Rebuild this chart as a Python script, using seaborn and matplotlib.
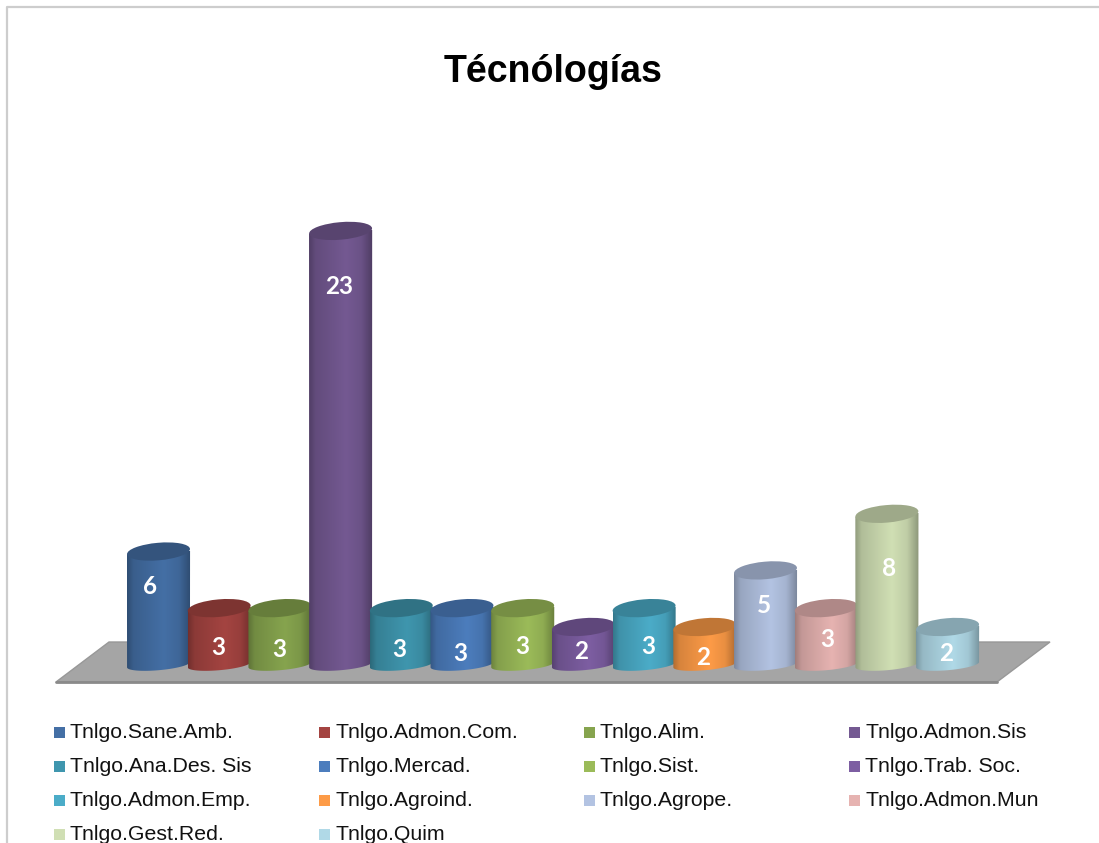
import numpy as np
import pandas as pd
import matplotlib.pyplot as plt
import seaborn as sns
from matplotlib.patches import Ellipse, Polygon, Rectangle
from matplotlib.path import Path
from matplotlib.transforms import IdentityTransform
from matplotlib.colors import to_rgb

categories = ['Tnlgo.Sane.Amb.', 'Tnlgo.Admon.Com.', 'Tnlgo.Alim.', 'Tnlgo.Admon.Sis',
              'Tnlgo.Ana.Des. Sis', 'Tnlgo.Mercad.', 'Tnlgo.Sist.', 'Tnlgo.Trab. Soc.',
              'Tnlgo.Admon.Emp.', 'Tnlgo.Agroind.', 'Tnlgo.Agrope.', 'Tnlgo.Admon.Mun',
              'Tnlgo.Gest.Red.', 'Tnlgo.Quim']
values = [6, 3, 3, 23, 3, 3, 3, 2, 3, 2, 5, 3, 8, 2]
colors = ['#446fa5', '#a44441', '#86a44e', '#745992', '#3f96ae', '#4c7dbd', '#9bbb59',
          '#7d5ea2', '#4bacc8', '#fd9b47', '#b3c3e2', '#e6b3b1', '#d0dfb4', '#b0d9e7']

# where the value label sits relative to the bar centre / bar top, in pixels
label_dx = [-8, -1, -1, -1, -2, -2, 0, -2, 4, -2, -2, 1, 2, -1]
label_dy = [35, 39, 41, 56, 41, 45, 38, 25, 38, 31, 35, 31, 55, 27]

W, H = 1099, 843
X0, DX = 158.5, 60.7    # pixel of first bar centre, pixels per category
Y0, DY = 664.7, 18.86   # pixel of value 0 (from top), pixels per unit

sns.set_theme(style='white')
plt.rcParams['font.family'] = ['Liberation Sans', 'DejaVu Sans']

fig = plt.figure(figsize=(W / 100, H / 100), dpi=100)
ax = fig.add_axes([0, 0, 1, 1])

df = pd.DataFrame({'carrera': categories, 'n': values})
sns.barplot(data=df, x='carrera', y='n', hue='carrera', palette=colors, width=1.04,
            legend=False, ax=ax)


def set_limits():
    ax.set_xlim(-X0 / DX, (W - X0) / DX)
    ax.set_ylim((Y0 - H) / DY, Y0 / DY)


set_limits()
ax.axis('off')


# floor of the 3d chart, in pixels from the top left
def px(points):
    return [(x, H - y) for x, y in points]


floor = Polygon(px([(56, 682), (109, 642), (1050, 642), (997, 682)]), closed=True,
                facecolor='#a5a5a5', edgecolor='#989898', linewidth=1,
                transform=IdentityTransform(), zorder=1)
ax.add_patch(floor)
ax.plot([56, 997], [H - 682, H - 682], color='#8a8a8a', lw=2,
        transform=IdentityTransform(), zorder=1.1)

shade_pos = [0, 0.1, 0.58, 0.82, 1]
shade_val = [0.7, 0.85, 1.0, 0.92, 0.68]
shade = np.interp(np.linspace(0, 1, 80), shade_pos, shade_val)
tilt = np.deg2rad(5)

bars = list(ax.patches)
for i, bar in enumerate(bars):
    if bar is floor:
        continue
    bar.set_visible(False)
    left, right = bar.get_x(), bar.get_x() + bar.get_width()
    val = bar.get_height()
    z = 2 + i * 0.1
    (xl, yb), (xr, yt) = ax.transData.transform([(left, 0), (right, val)])
    xc = (xl + xr) / 2
    half = (xr - xl) / 2
    rgb = np.array(to_rgb(colors[i]))

    # cylinder body: flat lower half ellipse, tilted, and straight sides
    t = np.linspace(np.pi, 2 * np.pi, 40)
    ex = half * np.cos(t)
    ey = 5.5 * np.sin(t)
    low_x = xc + ex * np.cos(tilt) - ey * np.sin(tilt)
    low_y = yb + ex * np.sin(tilt) + ey * np.cos(tilt)
    outline = list(zip(low_x, low_y))
    outline += [(xr, yt + half * np.sin(tilt)), (xl, yt - half * np.sin(tilt))]
    im = ax.imshow(np.clip(shade[None, :, None] * rgb, 0, 1), aspect='auto',
                   extent=(left, right, 0 - 0.5, val), interpolation='bilinear', zorder=z)
    im.set_clip_path(Path(outline + [outline[0]]), transform=IdentityTransform())

    # lid
    ax.add_patch(Ellipse((xc, yt), width=2 * half, height=17.5, angle=5,
                         facecolor=rgb * 0.76, edgecolor='none',
                         transform=IdentityTransform(), zorder=z + 0.01))
    ax.text(xc + label_dx[i], yt - label_dy[i], str(values[i]), color='white', fontsize=17.5,
            fontweight='bold', family='Lato', ha='center', va='center',
            transform=IdentityTransform(), zorder=10)

set_limits()

fig.text(553 / W, 1 - 72 / H, 'Técnólogías', fontsize=27, fontweight='bold', color='black',
         ha='center', va='center')

# legend in four equal columns
col_x = [54, 319, 584, 849]
row_y = [732, 766, 800, 834]
for i, name in enumerate(categories):
    x = col_x[i % 4]
    y = row_y[i // 4]
    fig.patches.append(Rectangle((x / W, 1 - (y + 5.5) / H), 11 / W, 11 / H,
                                 facecolor=colors[i], edgecolor='none',
                                 transform=fig.transFigure, figure=fig))
    fig.text((x + 16) / W, 1 - (y + 1) / H, name, fontsize=15.3, color='#111111',
             ha='left', va='center')

# chart border
fig.add_artist(plt.Line2D([7 / W, 7 / W, 1], [0, 1 - 7 / H, 1 - 7 / H], color='#cdcdcd', lw=1.6,
                          transform=fig.transFigure))

fig.savefig('out.png', dpi=100)
